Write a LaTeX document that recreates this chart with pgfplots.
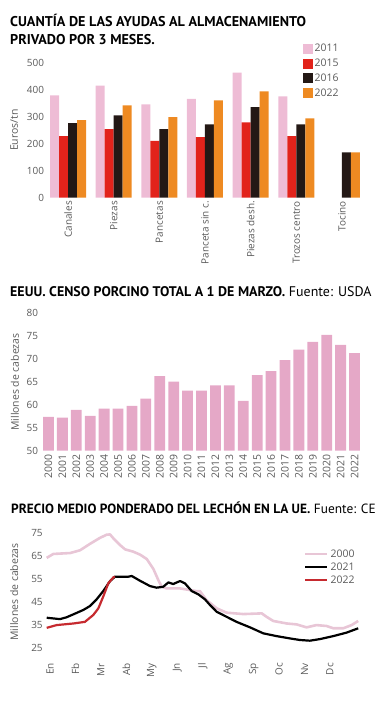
\documentclass[border=0pt]{standalone}
\usepackage{fontspec}
\usepackage{pgfplots}
\pgfplotsset{compat=1.18}
\setmainfont{PT Sans}
\newfontfamily\tickfont{Open Sans}
\definecolor{pinkA}{HTML}{EEBCD5}
\definecolor{redA}{HTML}{E2231B}
\definecolor{darkA}{HTML}{231815}
\definecolor{orangeA}{HTML}{EE8A22}
\definecolor{pinkB}{HTML}{E5A8C7}
\definecolor{pinkC}{HTML}{E8C6D6}
\definecolor{redC}{HTML}{C62A2F}
\definecolor{tickgray}{HTML}{5A5A5A}
\pgfplotsset{
  sqlegend/.style={legend image code/.code={\fill[##1,draw=none] (0bp,-5bp) rectangle (10bp,5bp);}},
  ln/.style={legend image code/.code={\draw[##1] (0bp,0bp) -- (22bp,0bp);}},
  base/.style={
    scale only axis,
    axis line style={draw=none},
    major tick length=0pt,
    tick label style={font=\tickfont\fontsize{10}{12}\selectfont, text=tickgray},
    /pgf/number format/assume math mode=true,
    clip=false,
  },
}
\begin{document}
\begin{tikzpicture}
\useasboundingbox (0bp,0bp) rectangle (387bp,718bp);
% ---------- Chart 1 ----------
\node[anchor=base west, inner sep=0pt, font=\bfseries\fontsize{14.2}{16}\selectfont] at (10bp,691.3bp) {CUANTÍA DE LAS AYUDAS AL ALMACENAMIENTO};
\node[anchor=base west, inner sep=0pt, font=\bfseries\fontsize{14.2}{16}\selectfont] at (10bp,673bp) {PRIVADO POR 3 MESES.};
\begin{axis}[base,
  at={(47.5bp,520.3bp)}, anchor=south west,
  width=315bp, height=135bp,
  xmin=-0.45, xmax=6.45, ymin=0, ymax=500,
  ybar=0pt, bar width=9bp,
  xtick={0,...,6},
  xticklabels={Canales,Piezas,Pancetas,Panceta sin c.,Piezas desh.,Trozos centro,Tocino},
  x tick label style={rotate=90, anchor=east},
  ytick={0,100,...,500},
  ylabel={Euros/tn},
  every axis y label/.style={at={(axis description cs:-0.106,0.5)}, rotate=90, anchor=center,
    font=\tickfont\fontsize{10.5}{12}\selectfont, text=tickgray},
  legend style={at={(axis description cs:0.80,1.168)}, anchor=north west, draw=none, fill=none,
    font=\tickfont\fontsize{10.5}{12}\selectfont, text=tickgray, row sep=1.8bp,
    /tikz/every even column/.append style={column sep=5bp}},
  legend cell align=left,
]
\addplot[fill=pinkA, draw=none, sqlegend] coordinates {(0,379) (1,415) (2,346) (3,366) (4,463) (5,375)};
\addplot[fill=redA, draw=none, sqlegend] coordinates {(0,228) (1,254) (2,210) (3,224) (4,279) (5,228)};
\addplot[fill=darkA, draw=none, sqlegend] coordinates {(0,276) (1,305) (2,254) (3,272) (4,335) (5,272) (6,168)};
\addplot[fill=orangeA, draw=none, sqlegend] coordinates {(0,287) (1,342) (2,298) (3,360) (4,394) (5,294) (6,168)};
\legend{2011,2015,2016,2022}
\end{axis}
% ---------- Chart 2 ----------
\node[anchor=base west, inner sep=0pt, font=\fontsize{14}{16}\selectfont] at (10bp,421.3bp) {\textbf{EEUU. CENSO PORCINO TOTAL A 1 DE MARZO.} Fuente: USDA};
\begin{axis}[base,
  at={(41.5bp,267.3bp)}, anchor=south west,
  width=320bp, height=137.3bp,
  xmin=-0.5, xmax=22.5, ymin=50, ymax=80,
  ybar=0pt, bar width=10.8bp,
  xtick={0,...,22},
  xticklabels={2000,2001,2002,2003,2004,2005,2006,2007,2008,2009,2010,2011,2012,2013,2014,2015,2016,2017,2018,2019,2020,2021,2022},
  x tick label style={rotate=90, anchor=east, font=\tickfont\fontsize{10.5}{12}\selectfont},
  ytick={50,55,...,80},
  ylabel={Millones de cabezas},
  every axis y label/.style={at={(axis description cs:-0.083,0.5)}, rotate=90, anchor=center,
    font=\tickfont\fontsize{10.5}{12}\selectfont, text=tickgray},
]
\addplot[fill=pinkB, draw=none] coordinates {
(0,57.4) (1,57.2) (2,58.9) (3,57.6) (4,59.2) (5,59.2) (6,59.8) (7,61.4) (8,66.3) (9,65.1) (10,63.1) (11,63.1) (12,64.3) (13,64.3) (14,60.9) (15,66.5) (16,67.4) (17,69.8) (18,72.1) (19,73.8) (20,75.3) (21,73.1) (22,71.3)};
\end{axis}
% ---------- Chart 3 ----------
\node[anchor=base west, inner sep=0pt, font=\fontsize{13.4}{15}\selectfont] at (11bp,204.7bp) {\textbf{PRECIO MEDIO PONDERADO DEL LECHÓN EN LA UE.} Fuente: CE};
\begin{axis}[base,
  at={(46.2bp,58.5bp)}, anchor=south west,
  width=314.3bp, height=126.2bp,
  xmin=-0.15, xmax=12.2, ymin=20, ymax=75,
  xtick={0,...,11},
  xticklabels={En,Fb,Mr,Ab,My,Jn,Jl,Ag,Sp,Oc,Nv,Dc},
  x tick label style={rotate=90, anchor=east},
  ytick={25,35,...,75},
  ylabel={Millones de cabezas},
  every axis y label/.style={at={(axis description cs:-0.102,0.535)}, rotate=90, anchor=center,
    font=\tickfont\fontsize{10.5}{12}\selectfont, text=tickgray},
  legend style={at={(axis description cs:0.81,0.905)}, anchor=north west, draw=none, fill=none,
    font=\tickfont\fontsize{10.5}{12}\selectfont, text=tickgray, row sep=0bp,
    /tikz/every even column/.append style={column sep=3bp}},
  legend cell align=left,
]
\addplot[pinkC, line width=2.6bp, line join=round, ln] coordinates {
(-0.13,64.3) (0.13,66) (0.79,66.4) (1.18,67.6) (1.57,70.4) (1.96,73.0) (2.23,74.4) (2.36,74.5) (2.49,72.8) (2.75,69.9) (2.95,68.0) (3.27,67.0) (3.54,65.7) (3.80,63.8) (4.06,59.5) (4.26,54.5) (4.39,51.7) (4.58,51.0) (5.1,51.0) (5.37,50.5) (5.76,49.8) (5.89,49.8) (6.15,45.9) (6.55,42.3) (6.94,40.4) (7.60,39.8) (8.32,40.1) (8.51,38.6) (8.77,36.8) (9.30,35.7) (9.69,35.3) (10.08,34.0) (10.47,35.0) (10.87,34.6) (11.13,33.6) (11.52,33.6) (11.85,35.0) (12.11,36.8)};
\addplot[black, line width=2.2bp, line join=round, ln] coordinates {
(-0.13,38.2) (0.39,37.6) (0.65,38.4) (0.92,39.7) (1.31,41.6) (1.57,43.3) (1.83,46.2) (2.09,49.8) (2.36,54.2) (2.55,56.1) (3.08,56.1) (3.21,56.4) (3.54,54.3) (3.93,52.0) (4.19,51.3) (4.45,51.7) (4.65,53.6) (4.84,52.9) (5.11,54.2) (5.30,53.2) (5.57,49.8) (5.83,48.4) (6.09,46.2) (6.29,43.7) (6.55,40.8) (6.94,38.6) (7.33,36.4) (7.86,34.0) (8.38,31.4) (8.90,30.2) (9.42,29.2) (9.82,28.5) (10.21,28.2) (10.61,28.9) (11.13,30.2) (11.65,31.7) (12.11,33.6)};
\addplot[redC, line width=2.2bp, line join=round, ln] coordinates {
(-0.13,33.8) (0.26,35.0) (0.92,35.7) (1.37,36.4) (1.70,39.4) (1.90,42.3) (2.09,47.4) (2.29,53.2) (2.49,55.8) (2.55,56.1)};
\legend{2000,2021,2022}
\end{axis}
\end{tikzpicture}
\end{document}
